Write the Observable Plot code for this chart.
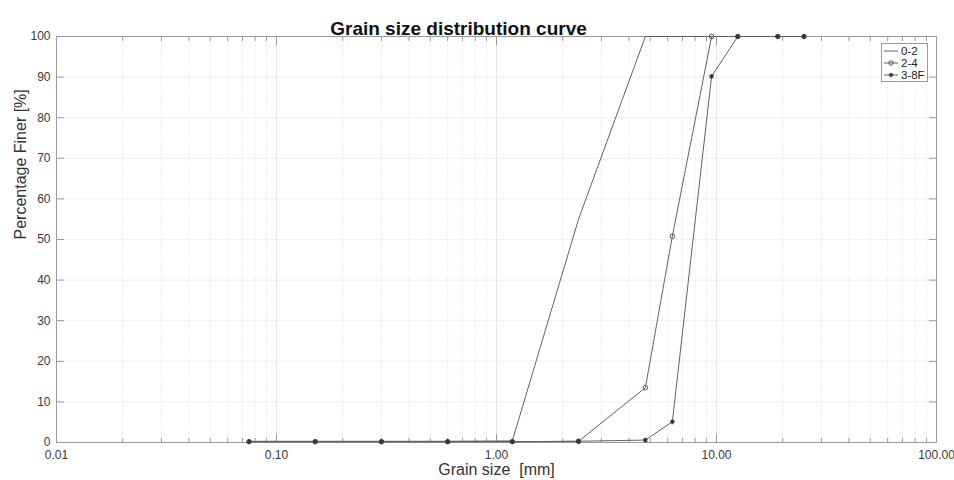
<!DOCTYPE html>
<html><head><meta charset="utf-8">
<script src="https://cdn.jsdelivr.net/npm/d3@7"></script>
<script src="https://cdn.jsdelivr.net/npm/@observablehq/plot@0.6"></script>
<style>
body{margin:0;background:#fff;font-family:"Liberation Sans",Arial,sans-serif;}
#wrap{position:relative;width:954px;height:480px;}
#legend{position:absolute;left:881px;top:43px;width:47px;height:39px;border:1px solid #999;background:#fff;font-size:11.5px;color:#222;box-sizing:border-box;}
#legend .row{display:flex;align-items:center;height:12px;}
#legend svg{display:block;}
</style></head><body><div id="wrap"><div id="legend"></div></div>
<script>
// sieve sizes (mm)
const sieveSizes = [0.075, 0.15, 0.3, 0.6, 1.18, 2.36, 4.75, 6.3, 9.5, 12.5, 19, 25];
const seriesNames = ["0-2", "2-4", "3-8F"];
const pct_0_2  = [0.3, 0.3, 0.3, 0.3, 0.4, 55, 100, 100, 100, 100, 100, 100];
const pct_2_4  = [0.2, 0.2, 0.2, 0.2, 0.2, 0.3, 13.5, 50.8, 100, 100, 100, 100];
const pct_3_8F = [0.2, 0.2, 0.2, 0.2, 0.2, 0.3, 0.6, 5.1, 90.2, 100, 100, 100];
const seriesMarkers = ["none", "circle", "asterisk"];

const xTickValues = [0.01, 0.1, 1, 10, 100];
const xTickLabels = ["0.01", "0.10", "1.00", "10.00", "100.00"];
const yTickValues = [0, 10, 20, 30, 40, 50, 60, 70, 80, 90, 100];
const yTickLabels = ["0", "10", "20", "30", "40", "50", "60", "70", "80", "90", "100"];

const titleText = "Grain size distribution curve";
const xLabel = "Grain size  [mm]";
const yLabel = "Percentage Finer [%]";

const allValues = [pct_0_2, pct_2_4, pct_3_8F];
const rows = seriesNames.flatMap((s, i) => sieveSizes.map((x, j) => ({series: s, size: x, pct: allValues[i][j]})));
const minorTicks = xTickValues.slice(0, -1).flatMap(d => [2,3,4,5,6,7,8,9].map(k => d * k));

const font = "Liberation Sans, Arial, Helvetica, sans-serif";
const lineColor = "#626262";
const axisColor = "#9a9a9a";

const chart = Plot.plot({
  width: 954, height: 480,
  marginLeft: 56, marginRight: 18, marginTop: 36, marginBottom: 38,
  style: {fontFamily: font, fontSize: "12px", color: "#333", background: "#fff"},
  x: {type: "log", domain: [0.01, 100]},
  y: {domain: [0, 100]},
  marks: [
    Plot.ruleX(minorTicks, {stroke: "#e2e2e2", strokeDasharray: "1.5,1.5", strokeWidth: 0.8}),
    Plot.ruleX(xTickValues, {stroke: "#e6e6e6"}),
    Plot.ruleY(yTickValues, {stroke: "#efefef"}),
    Plot.frame({stroke: axisColor}),
    // inward ticks
    Plot.axisX({anchor: "bottom", ticks: minorTicks, tickSize: -4, tickFormat: () => "", stroke: axisColor, label: null}),
    Plot.axisX({anchor: "top", ticks: minorTicks, tickSize: -4, tickFormat: () => "", stroke: axisColor, label: null}),
    Plot.axisX({anchor: "bottom", ticks: xTickValues, tickSize: -8, tickFormat: () => "", stroke: axisColor, label: null}),
    Plot.axisX({anchor: "top", ticks: xTickValues, tickSize: -8, tickFormat: () => "", stroke: axisColor, label: null}),
    Plot.axisY({anchor: "left", ticks: yTickValues, tickSize: -8, tickFormat: () => "", stroke: axisColor, label: null}),
    Plot.axisY({anchor: "right", ticks: yTickValues, tickSize: -8, tickFormat: () => "", stroke: axisColor, label: null}),
    // tick labels
    Plot.axisX({anchor: "bottom", ticks: xTickValues, tickSize: 0, tickPadding: 8, tickFormat: d => xTickLabels[xTickValues.indexOf(d)], fill: "#3a3a3a", fontSize: 12, label: null}),
    Plot.axisY({anchor: "left", ticks: yTickValues, tickSize: 0, tickPadding: 6, tickFormat: d => yTickLabels[yTickValues.indexOf(d)], fill: "#3a3a3a", fontSize: 12, label: null}),
    // data
    Plot.line(rows, {x: "size", y: "pct", z: "series", stroke: lineColor, strokeWidth: 1}),
    Plot.dot(rows.filter(d => d.series === "2-4"), {x: "size", y: "pct", r: 2.3, symbol: "circle", stroke: "#555", fill: "none", strokeWidth: 1}),
    Plot.dot(rows.filter(d => d.series === "3-8F"), {x: "size", y: "pct", r: 2.2, symbol: "asterisk", stroke: "#333", strokeWidth: 1.5}),
    // texts
    Plot.text([titleText], {text: d => d, frameAnchor: "top", dx: -38, dy: -15, fontSize: 19, fontWeight: "bold", fill: "#111"}),
    Plot.text([xLabel], {text: d => d, frameAnchor: "bottom", dy: 32, fontSize: 16, fill: "#333"}),
    Plot.text([yLabel], {text: d => d, frameAnchor: "left", dx: -36, rotate: -90, fontSize: 16, fill: "#333"})
  ]
});
const wrap = document.getElementById("wrap");
wrap.insertBefore(chart, wrap.firstChild);

// legend
const legend = document.getElementById("legend");
legend.style.paddingTop = "1px";
seriesNames.forEach((s, i) => {
  const row = document.createElement("div");
  row.className = "row";
  const m = seriesMarkers[i];
  let mk = "";
  if (m === "circle") mk = `<circle cx="9" cy="6" r="2.2" fill="none" stroke="#555"/>`;
  if (m === "asterisk") mk = `<path d="M9,3.8v4.4M7,4.9l4,2.2M7,7.1l4,-2.2" stroke="#333" stroke-width="1.2"/>`;
  row.innerHTML = `<svg width="19" height="12"><line x1="2" x2="16" y1="6" y2="6" stroke="${lineColor}"/>${mk}</svg><span>${s}</span>`;
  legend.appendChild(row);
});
</script>
</body></html>
